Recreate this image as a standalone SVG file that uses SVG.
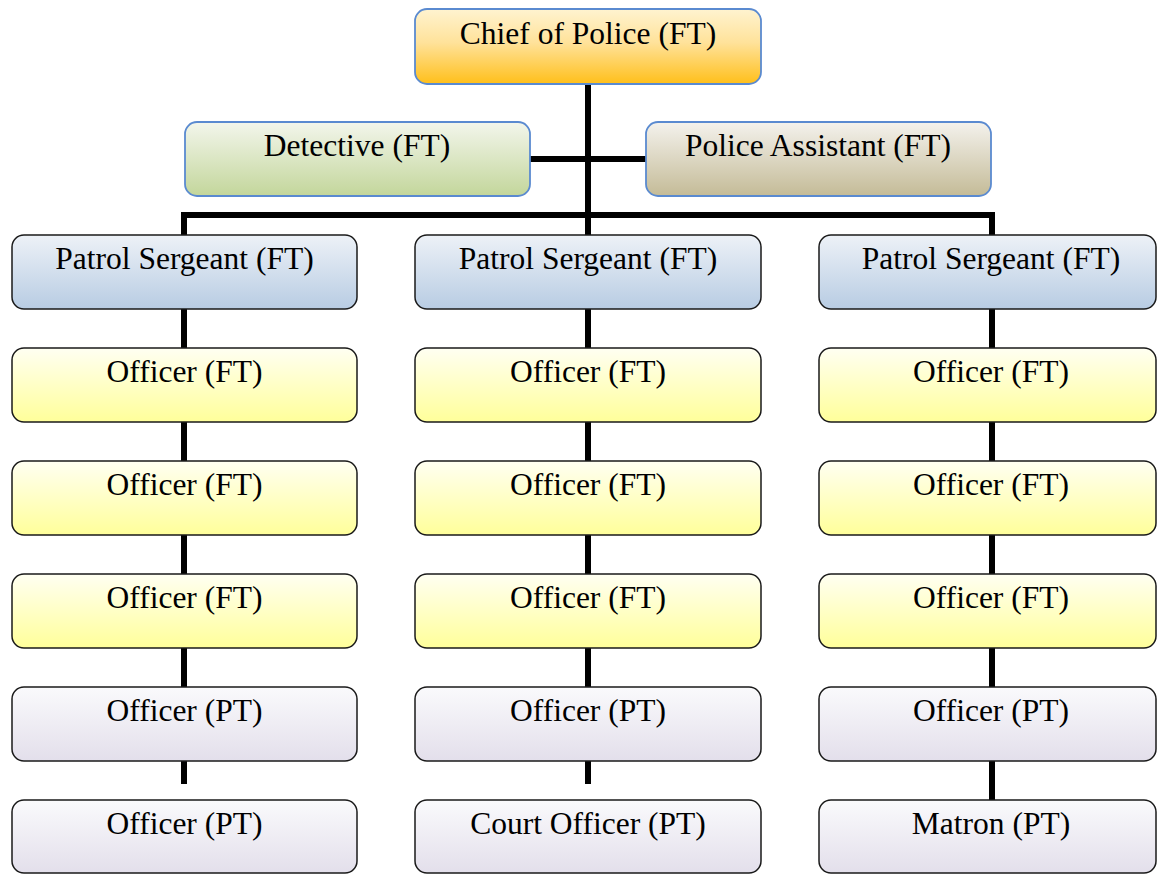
<svg xmlns="http://www.w3.org/2000/svg" width="1157" height="874" viewBox="0 0 1157 874">
<defs>
<linearGradient id="gChief" x1="0" y1="0" x2="0" y2="1"><stop offset="0" stop-color="#fff3d0"/><stop offset="0.45" stop-color="#ffe29a"/><stop offset="1" stop-color="#ffbf1a"/></linearGradient>
<linearGradient id="gDet" x1="0" y1="0" x2="0" y2="1"><stop offset="0" stop-color="#f3f6ec"/><stop offset="1" stop-color="#c3d69b"/></linearGradient>
<linearGradient id="gPA" x1="0" y1="0" x2="0" y2="1"><stop offset="0" stop-color="#f4f2ed"/><stop offset="1" stop-color="#c4bb97"/></linearGradient>
<linearGradient id="gSgt" x1="0" y1="0" x2="0" y2="1"><stop offset="0" stop-color="#edf1f7"/><stop offset="1" stop-color="#b8cce3"/></linearGradient>
<linearGradient id="gFT" x1="0" y1="0" x2="0" y2="1"><stop offset="0" stop-color="#fffff2"/><stop offset="1" stop-color="#ffff9a"/></linearGradient>
<linearGradient id="gPT" x1="0" y1="0" x2="0" y2="1"><stop offset="0" stop-color="#fafafc"/><stop offset="1" stop-color="#e3dfeb"/></linearGradient>
</defs>
<style>
.box{stroke:#1a1a1a;stroke-width:1.5}
.top{stroke:#5a8ad0;stroke-width:1.8}
.t{font-family:"Liberation Serif","Times New Roman",serif;font-size:31.5px;fill:#000;text-anchor:middle}
.c{stroke:#000;stroke-width:6;fill:none}
</style>
<g id="connectors">
<line class="c" x1="588" y1="84" x2="588" y2="784"/>
<line class="c" x1="530" y1="159" x2="646" y2="159"/>
<line class="c" x1="181" y1="215" x2="995" y2="215"/>
<line class="c" x1="184" y1="212" x2="184" y2="784"/>
<line class="c" x1="992" y1="212" x2="992" y2="800"/>
</g>
<g id="chief"><rect class="top" x="415" y="9" width="346" height="75" rx="12" fill="url(#gChief)"/><text class="t" x="588" y="44">Chief of Police (FT)</text></g>
<g id="detective"><rect class="top" x="185" y="122" width="345" height="74" rx="12" fill="url(#gDet)"/><text class="t" x="357" y="156">Detective (FT)</text></g>
<g id="assistant"><rect class="top" x="646" y="122" width="345" height="74" rx="12" fill="url(#gPA)"/><text class="t" x="818" y="156">Police Assistant (FT)</text></g>

<g id="sgt1"><rect class="box" x="12" y="235" width="345" height="74" rx="12" fill="url(#gSgt)"/><text class="t" x="184.5" y="269">Patrol Sergeant (FT)</text></g>
<g id="sgt2"><rect class="box" x="415" y="235" width="346" height="74" rx="12" fill="url(#gSgt)"/><text class="t" x="588" y="269">Patrol Sergeant (FT)</text></g>
<g id="sgt3"><rect class="box" x="819" y="235" width="337" height="74" rx="12" fill="url(#gSgt)"/><text class="t" x="991" y="269">Patrol Sergeant (FT)</text></g>

<g id="o1a"><rect class="box" x="12" y="348" width="345" height="74" rx="12" fill="url(#gFT)"/><text class="t" x="184.5" y="382">Officer (FT)</text></g>
<g id="o2a"><rect class="box" x="415" y="348" width="346" height="74" rx="12" fill="url(#gFT)"/><text class="t" x="588" y="382">Officer (FT)</text></g>
<g id="o3a"><rect class="box" x="819" y="348" width="337" height="74" rx="12" fill="url(#gFT)"/><text class="t" x="991" y="382">Officer (FT)</text></g>

<g id="o1b"><rect class="box" x="12" y="461" width="345" height="74" rx="12" fill="url(#gFT)"/><text class="t" x="184.5" y="495">Officer (FT)</text></g>
<g id="o2b"><rect class="box" x="415" y="461" width="346" height="74" rx="12" fill="url(#gFT)"/><text class="t" x="588" y="495">Officer (FT)</text></g>
<g id="o3b"><rect class="box" x="819" y="461" width="337" height="74" rx="12" fill="url(#gFT)"/><text class="t" x="991" y="495">Officer (FT)</text></g>

<g id="o1c"><rect class="box" x="12" y="574" width="345" height="74" rx="12" fill="url(#gFT)"/><text class="t" x="184.5" y="608">Officer (FT)</text></g>
<g id="o2c"><rect class="box" x="415" y="574" width="346" height="74" rx="12" fill="url(#gFT)"/><text class="t" x="588" y="608">Officer (FT)</text></g>
<g id="o3c"><rect class="box" x="819" y="574" width="337" height="74" rx="12" fill="url(#gFT)"/><text class="t" x="991" y="608">Officer (FT)</text></g>

<g id="p1a"><rect class="box" x="12" y="687" width="345" height="74" rx="12" fill="url(#gPT)"/><text class="t" x="184.5" y="721">Officer (PT)</text></g>
<g id="p2a"><rect class="box" x="415" y="687" width="346" height="74" rx="12" fill="url(#gPT)"/><text class="t" x="588" y="721">Officer (PT)</text></g>
<g id="p3a"><rect class="box" x="819" y="687" width="337" height="74" rx="12" fill="url(#gPT)"/><text class="t" x="991" y="721">Officer (PT)</text></g>

<g id="p1b"><rect class="box" x="12" y="800" width="345" height="73" rx="12" fill="url(#gPT)"/><text class="t" x="184.5" y="834">Officer (PT)</text></g>
<g id="p2b"><rect class="box" x="415" y="800" width="346" height="73" rx="12" fill="url(#gPT)"/><text class="t" x="588" y="834">Court Officer (PT)</text></g>
<g id="p3b"><rect class="box" x="819" y="800" width="337" height="73" rx="12" fill="url(#gPT)"/><text class="t" x="991" y="834">Matron (PT)</text></g>
</svg>
